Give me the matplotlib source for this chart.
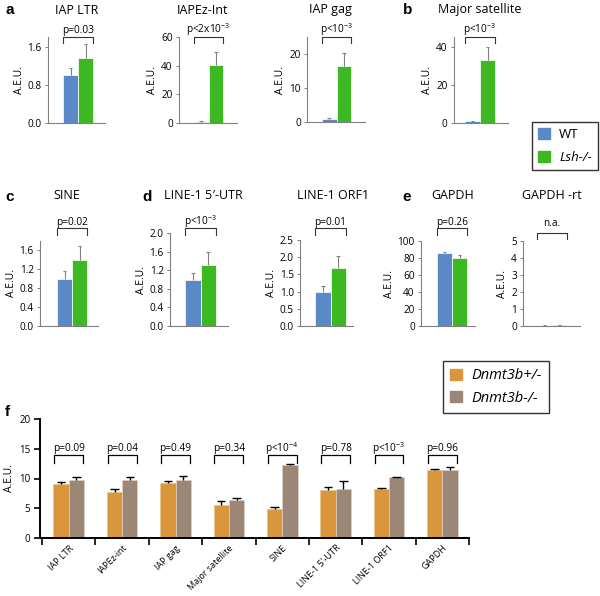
import matplotlib
matplotlib.use("Agg")
import matplotlib.pyplot as plt
import matplotlib.transforms as mtransforms
from matplotlib.patches import Patch

plt.rcParams['font.family'] = ['Open Sans', 'DejaVu Sans']
plt.rcParams['mathtext.fontset'] = 'custom'
plt.rcParams['mathtext.rm'] = 'Open Sans'
plt.rcParams['mathtext.default'] = 'regular'

# ---- data: Lsh panels (a-e) ----
lsh_targets = ["IAP LTR", "IAPEz-Int", "IAP gag", "Major satellite", "SINE",
               "LINE-1 5\u2032-UTR", "LINE-1 ORF1", "GAPDH", "GAPDH -rt"]
wt_means = [1.0, 1.0, 1.0, 1.0, 1.0, 1.0, 1.0, 86, 0.02]
wt_err = [0.15, 0.3, 0.2, 0.2, 0.15, 0.14, 0.15, 1.5, 0.01]
lsh_means = [1.37, 40.5, 16.5, 33, 1.39, 1.31, 1.69, 80, 0.05]
lsh_err = [0.29, 9, 3.8, 7, 0.29, 0.28, 0.34, 4, 0.03]
lsh_pvals = ["p=0.03", "p<2x10$^{-3}$", "p<10$^{-3}$", "p<10$^{-3}$", "p=0.02",
             "p<10$^{-3}$", "p=0.01", "p=0.26", "n.a."]
lsh_ymax = [1.8, 60, 25, 45, 1.8, 2.0, 2.5, 100, 5]
lsh_yticks = [[0.0, 0.8, 1.6], [0, 20, 40, 60], [0, 10, 20], [0, 20, 40],
              [0.0, 0.4, 0.8, 1.2, 1.6], [0.0, 0.4, 0.8, 1.2, 1.6, 2.0],
              [0.0, 0.5, 1.0, 1.5, 2.0, 2.5], [0, 20, 40, 60, 80, 100],
              [0, 1, 2, 3, 4, 5]]
lsh_decimals = [1, 0, 0, 0, 1, 1, 1, 0, 0]

# ---- data: Dnmt3b panel (f) ----
f_targets = ["IAP LTR", "IAPEz-int", "IAP gag", "Major satellite", "SINE",
             "LINE-1 5'-UTR", "LINE-1 ORF1", "GAPDH"]
het_means = [9.0, 7.8, 9.2, 5.6, 4.8, 8.0, 8.2, 11.5]
het_err = [0.4, 0.5, 0.4, 0.6, 0.4, 0.6, 0.2, 0.1]
ko_means = [9.8, 9.7, 9.7, 6.4, 12.2, 8.3, 10.2, 11.4]
ko_err = [0.5, 0.5, 0.8, 0.4, 0.3, 1.2, 0.1, 0.5]
f_pvals = ["p=0.09", "p=0.04", "p=0.49", "p=0.34", "p<10$^{-4}$",
           "p=0.78", "p<10$^{-3}$", "p=0.96"]

BLUE = "#5b88c6"
GREEN = "#3db722"
ORANGE = "#d9963b"
BROWN = "#9c8675"
GRAY = "#808080"

W, H = 600, 596
fig = plt.figure(figsize=(W / 100, H / 100), dpi=100)


def px_axes(left, top, right, bottom):
    return fig.add_axes([left / W, 1 - bottom / H, (right - left) / W, (bottom - top) / H])


def fy(y):
    return 1 - y / H


# layout of small panels: spine x, right x, top y, bottom y, bar start x, bar width (pixels)
layout = [(48, 105, 37, 123, 63, 15), (179, 237, 37, 123, 194, 14.7),
          (307, 365, 37, 122, 322, 14.5), (454, 508, 37, 123, 465, 15),
          (40, 98, 240.5, 326, 57, 15), (170, 228, 233, 326, 185, 15.5),
          (300, 353, 240, 326, 315, 15.5), (421, 475, 241, 326, 437, 15),
          (523, 580, 241, 326, 537, 15)]
# bracket/text y (pixels) per row
brk_rows = [(30, 37, 43)] * 4 + [(222, 228, 235)] * 4 + [(224, 233, 239)]
title_pos = [(77, 10), (203, 10), (330, 10), (480, 10), (67, 195), (203, 195),
             (333, 195), (453, 195), (552, 195)]

for i in range(9):
    sx, rx, ty, by, bs, bw = layout[i]
    ax = px_axes(sx, ty, rx, by)
    x = [0.5, 1.5]
    ax.bar(x, [wt_means[i], lsh_means[i]], width=1.0, color=[BLUE, GREEN],
           edgecolor="white", linewidth=0.5, zorder=2)
    for xx, m, e in zip(x, [wt_means[i], lsh_means[i]], [wt_err[i], lsh_err[i]]):
        ax.vlines(xx, m, m + e, color=GRAY, lw=0.8, zorder=3)
        ax.hlines(m + e, xx - 0.13, xx + 0.13, color=GRAY, lw=0.8, zorder=3)
    ax.set_xlim((sx - bs) / bw, (rx - bs) / bw)
    ax.set_ylim(0, lsh_ymax[i])
    ax.set_yticks(lsh_yticks[i])
    ax.set_yticklabels([f"{t:.{lsh_decimals[i]}f}" for t in lsh_yticks[i]], fontsize=7.2)
    ax.set_xticks([])
    for s in ["top", "right"]:
        ax.spines[s].set_visible(False)
    for s in ["left", "bottom"]:
        ax.spines[s].set_color(GRAY)
        ax.spines[s].set_linewidth(0.8)
    ax.tick_params(axis="y", length=2.5, width=0.7, color=GRAY, pad=2)
    ax.set_ylabel("A.E.U.", fontsize=7.5, labelpad=2)
    ax.patch.set_alpha(0)

    ty_txt, ty_top, ty_bot = brk_rows[i]
    trans = mtransforms.blended_transform_factory(ax.transData, fig.transFigure)
    ax.plot([0, 0, 2, 2], [fy(ty_bot), fy(ty_top), fy(ty_top), fy(ty_bot)],
            color="#333333", lw=0.8, transform=trans, clip_on=False)
    ax.text(1.0, fy(ty_txt), lsh_pvals[i], transform=trans, ha="center",
            va="center", fontsize=7.3)

    tx, tyy = title_pos[i]
    fig.text(tx / W, fy(tyy), lsh_targets[i], ha="center", va="center", fontsize=9)

# panel letters
for letter, (lx, ly) in zip("abcdef", [(5, 10), (403, 10), (5, 197), (142, 197),
                                       (402, 197), (5, 412)]):
    fig.text(lx / W, fy(ly), letter, ha="left", va="center", fontsize=11,
             fontweight="bold", family="Liberation Sans")

# legend Lsh
leg1 = fig.legend(handles=[Patch(color=BLUE, label="WT"), Patch(color=GREEN, label="Lsh-/-")],
                  loc="upper left", bbox_to_anchor=(532 / W, fy(122)), frameon=True,
                  fancybox=False, edgecolor="black", handlelength=0.9, handleheight=0.9,
                  fontsize=9.5, borderpad=0.45, labelspacing=0.75, handletextpad=0.7,
                  borderaxespad=0)
leg1.get_frame().set_linewidth(1.0)
leg1.get_texts()[1].set_style("italic")

# legend Dnmt3b
leg2 = fig.legend(handles=[Patch(color=ORANGE, label="Dnmt3b+/-"),
                           Patch(color=BROWN, label="Dnmt3b-/-")],
                  loc="upper left", bbox_to_anchor=(443 / W, fy(361)), frameon=True,
                  fancybox=False, edgecolor="black", handlelength=0.8, handleheight=0.8,
                  borderpad=0.5, labelspacing=0.5, handletextpad=0.65,
                  borderaxespad=0, prop={"style": "italic", "size": 10.5})
leg2.get_frame().set_linewidth(1.0)

# ---- panel f ----
axf = px_axes(40, 419, 469, 538)
n = len(f_targets)
cats = list(range(n))
bw = 0.287
axf.bar([c - bw / 2 for c in cats], het_means, width=bw, color=ORANGE,
        edgecolor="#e9c48f", linewidth=0.5, zorder=2)
axf.bar([c + bw / 2 for c in cats], ko_means, width=bw, color=BROWN,
        edgecolor="#ddd1c6", linewidth=0.5, zorder=2)
for c, m, e in zip(cats, het_means, het_err):
    axf.vlines(c - bw / 2, m, m + e, color="black", lw=1.0, zorder=3)
    axf.hlines(m + e, c - bw / 2 - 0.08, c - bw / 2 + 0.08, color="black", lw=1.0, zorder=3)
for c, m, e in zip(cats, ko_means, ko_err):
    axf.vlines(c + bw / 2, m, m + e, color="black", lw=1.0, zorder=3)
    axf.hlines(m + e, c + bw / 2 - 0.08, c + bw / 2 + 0.08, color="black", lw=1.0, zorder=3)

axf.set_xlim(-0.54, n - 0.5)
axf.set_ylim(0, 20)
axf.set_yticks([0, 5, 10, 15, 20])
axf.set_yticklabels(["0", "5", "10", "15", "20"], fontsize=7)
axf.set_xticks([c - 0.5 for c in range(n + 1)])
axf.set_xticklabels([])
axf.set_xticks(cats, minor=True)
axf.set_xticklabels(f_targets, minor=True, rotation=45, ha="right",
                    rotation_mode="anchor", fontsize=6.5)
axf.tick_params(axis="x", which="major", length=5, width=1.2, direction="out")
axf.tick_params(axis="x", which="minor", length=0, pad=4)
axf.tick_params(axis="y", length=4, width=1.2, pad=3)
for s in ["top", "right"]:
    axf.spines[s].set_visible(False)
for s in ["left", "bottom"]:
    axf.spines[s].set_linewidth(1.4)
axf.set_ylabel("A.E.U.", fontsize=7.5, labelpad=3)
axf.patch.set_alpha(0)

transf = mtransforms.blended_transform_factory(axf.transData, fig.transFigure)
for c, p in zip(cats, f_pvals):
    axf.plot([c - 0.27, c - 0.27, c + 0.27, c + 0.27],
             [fy(463), fy(455), fy(455), fy(463)], color="black", lw=0.9,
             transform=transf, clip_on=False)
    axf.text(c, fy(449), p, transform=transf, ha="center", va="center", fontsize=7.3)

fig.savefig("out.png", dpi=100)
